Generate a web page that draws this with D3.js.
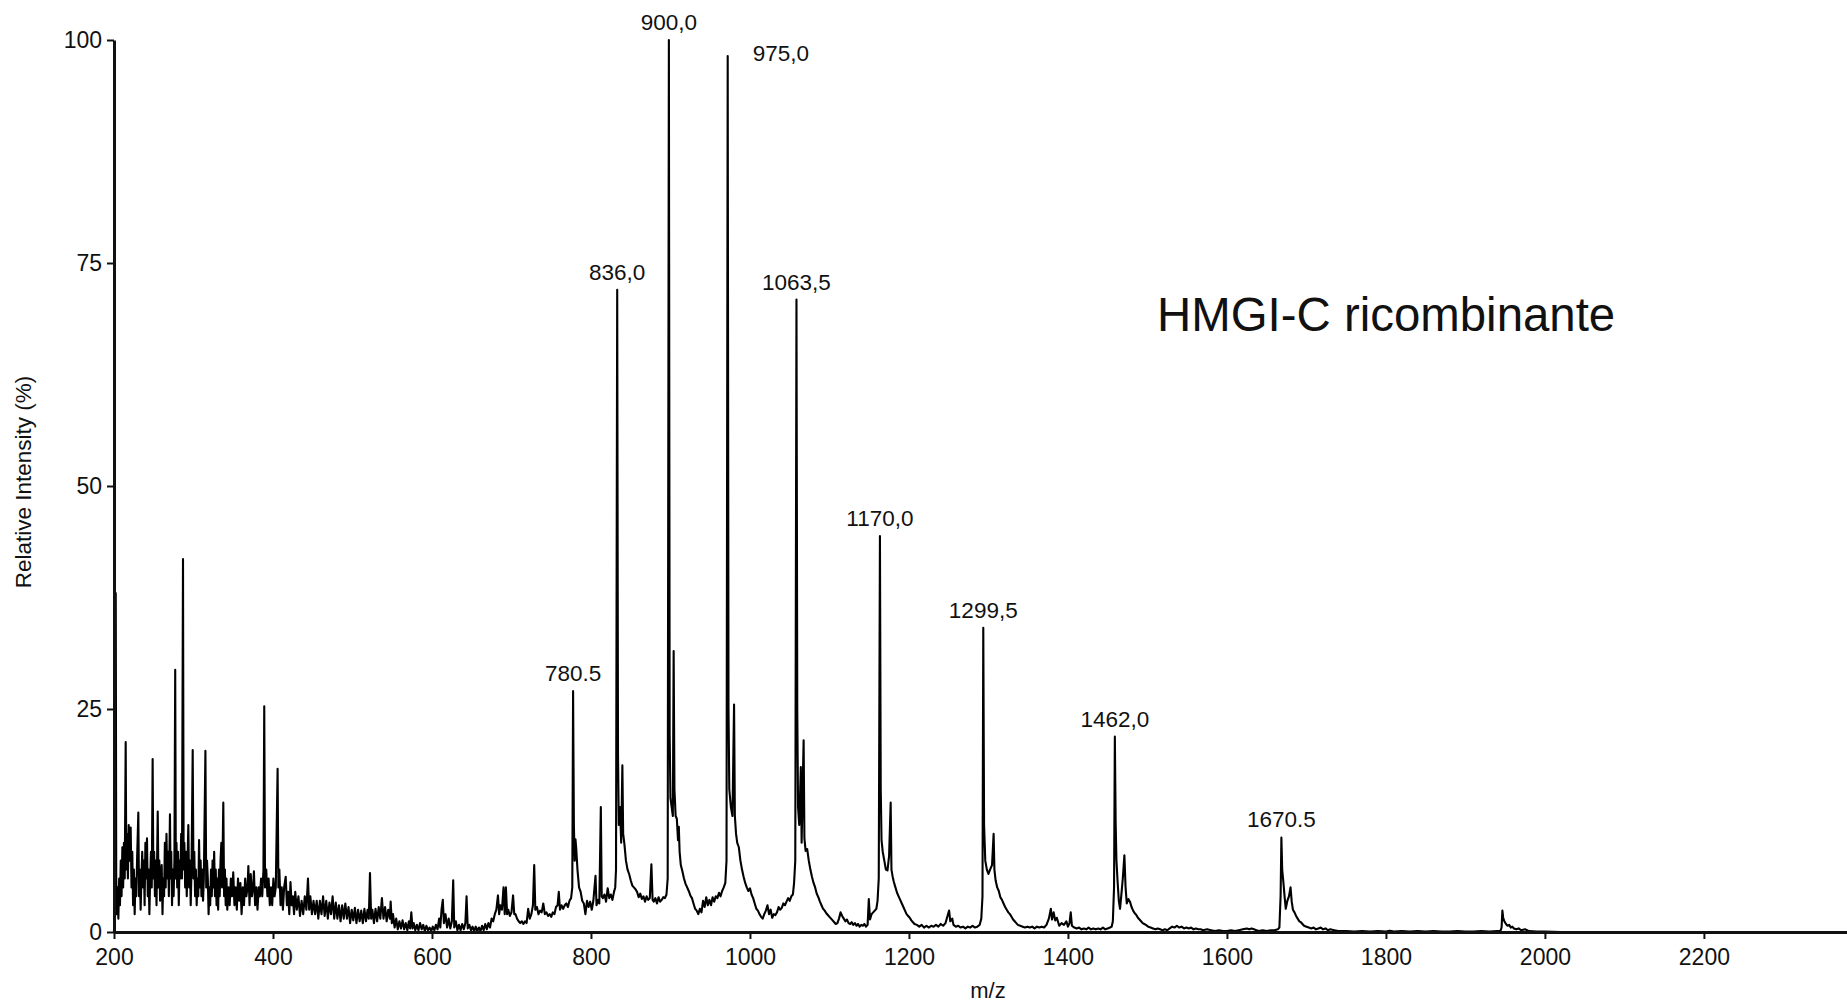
<!DOCTYPE html>
<html>
<head>
<meta charset="utf-8">
<script src="https://cdn.jsdelivr.net/npm/d3@7"></script>
<style>
  body { margin: 0; background: #fff; }
  svg { display: block; }
  text { font-family: "Liberation Sans", Arial, Helvetica, sans-serif; fill: #111; }
</style>
</head>
<body>
<div id="chart"></div>
<script>
// -----------------------------------------------------------------------------------
// Spettro di massa HMGI-C ricombinante (m/z vs intensita relativa)
// -----------------------------------------------------------------------------------

// Tick degli assi
const xTicks = [200, 400, 600, 800, 1000, 1200, 1400, 1600, 1800, 2000, 2200];
const yTicks = [0, 25, 50, 75, 100];

// Spettro, zona a bassa m/z (200-680): rumore fitto e picchi isolati  [m/z, %]
const spectrumLow = [
  [200, 0], [200.5, 3], [201, 41], [201.6, 8], [202.2, 38], [202.8, 6], [203.5, 2], [204.5, 5], [205.5, 1.5],
  [206.5, 6], [207.5, 3], [208.5, 8], [209.5, 4], [210.5, 9.5], [211.5, 5], [212.5, 10], [213.5, 6],
  [214.7, 21.3], [215.5, 7], [216.5, 11], [217.5, 6], [218.5, 12], [219.5, 8], [221, 11.7], [222, 5],
  [223, 9], [224, 3], [225, 7], [226, 2], [227, 6], [228, 4], [229, 8], [230.6, 13.4], [231.5, 4],
  [232.5, 7], [233.5, 2.5], [234.5, 6], [235.5, 9], [236.5, 5], [237.5, 8], [238.5, 3], [239.5, 10],
  [240.5, 6], [241.5, 10.5], [242.5, 4], [243.5, 7], [244.5, 2], [245.5, 6], [246.5, 9], [247.5, 5],
  [248.6, 19.4], [249.5, 6], [250.5, 9], [251.5, 4], [252.5, 8], [253.5, 3], [255, 13.5], [256, 5],
  [257, 8], [258, 3.5], [259, 6], [260, 7.5], [261, 2], [262, 6], [263, 4], [264, 10], [265, 5],
  [266, 11], [267, 6], [268, 9], [269, 4], [270.4, 13.2], [271.2, 6], [272, 9], [273, 3], [274, 7],
  [275, 4], [276, 8], [277, 29.4], [277.8, 6], [278.6, 10], [279.5, 5], [280.5, 9], [281.5, 3],
  [282.5, 8], [283.5, 6], [284.5, 11], [285.5, 6], [286.8, 41.8], [287.6, 7], [288.5, 10], [289.5, 5],
  [290.5, 9], [291.5, 4], [292.5, 8], [293.5, 12], [294.5, 5], [295.5, 8], [296.5, 3], [297.5, 7],
  [299, 20.4], [300, 6], [301, 9], [302, 4], [303, 7], [304, 3], [305, 6], [306, 4], [307, 10.3],
  [308, 5], [309, 8], [310, 4], [311, 7], [312, 3.5], [313, 6], [315, 20.3], [316, 5], [317, 8],
  [318, 6], [319, 2], [320, 5], [321, 3], [322, 7], [323, 4], [324, 8], [325, 5], [326, 9], [327, 4],
  [328, 7], [329, 3], [330, 6], [331, 2.5], [332, 7], [333, 4], [334, 8], [335, 10], [336, 5],
  [337.5, 14.5], [338.5, 4], [339.5, 7], [340.5, 3], [341.5, 6], [342.5, 2.5], [344, 5], [345.5, 3],
  [347, 6], [348.5, 4], [350, 6.7], [351.5, 3], [353, 5], [354.5, 2.5], [356, 6], [357.5, 3.5],
  [359, 5.5], [360.5, 2], [362, 5], [363.5, 3], [365, 6], [366.5, 4], [368, 5], [369, 7.4], [370.5, 3],
  [372, 6.5], [373.5, 4], [375, 5], [376, 6.8], [377.5, 3], [379, 5], [380.5, 2.5], [382, 5],
  [383.5, 4], [385, 6], [386.5, 4], [388, 7], [389, 25.3], [390, 5], [391.5, 7], [393, 4], [394.5, 6],
  [396, 3], [397.5, 5], [399, 3], [400.5, 6], [402, 4], [403.5, 5], [405.8, 18.3], [406.8, 5],
  [408, 7], [409.5, 3], [411, 5], [412.5, 2.5], [414, 5], [416, 6.2], [417.5, 3], [419, 4.5],
  [420.5, 2], [422, 5.6], [423.5, 3], [425, 4], [426.5, 2], [428, 4.5], [430, 2.5], [432, 4],
  [434, 1.8], [436, 3.5], [438, 2], [440, 4], [442, 2.5], [444, 6], [445.5, 2.5], [447, 4], [449, 2],
  [451, 3.5], [453, 2], [455, 3.5], [457, 1.5], [459, 3.5], [461, 2], [463, 4], [465, 1.8],
  [467, 3.5], [469, 1.5], [471, 3.3], [473, 2], [475, 4], [477, 1.5], [479, 3.3], [481, 1.5],
  [483, 3], [485, 1.2], [487, 3], [489, 1.5], [491, 3.2], [493, 1.5], [495, 2.8], [497, 1],
  [499, 2.5], [501, 1.3], [503, 2.7], [505, 1], [507, 2.5], [509, 1.2], [511, 2.4], [513, 1],
  [515, 2.6], [517, 1.2], [519, 2.5], [520.5, 1.5], [522, 6.6], [523.5, 1.5], [525, 2.5], [527, 1],
  [529, 2.6], [531, 1.2], [533, 2.8], [535, 1.5], [537, 3.8], [539, 1.5], [541, 2.8], [543, 1.2],
  [545, 2.5], [547, 1.5], [548, 3.4], [549.5, 1], [551, 2], [553, 0.5], [555, 1.5], [557, 0.3],
  [559, 1.2], [561, 0.4], [563, 1.3], [565, 0.3], [567, 1], [569, 0.2], [571, 1.2], [572.5, 0.4],
  [574, 2.2], [575.5, 0.4], [577, 1], [579, 0.2], [581, 0.8], [583, 0.2], [585, 1], [587, 0.3],
  [589, 0.8], [591, 0.1], [593, 0.7], [595, 0.2], [597, 0.5], [599, 0.1], [601, 0.6], [603, 0.2],
  [605, 0.8], [607, 0.3], [609, 1.5], [610.5, 0.5], [612, 2.5], [613.6, 3.6], [615, 1], [617, 2],
  [619, 0.5], [621, 1.5], [623, 0.4], [625, 1.2], [626.7, 5.8], [628, 0.5], [630, 1.2], [632, 0.2],
  [634, 0.8], [636, 0.2], [638, 0.9], [640, 0.3], [642, 1], [643.5, 4], [645, 0.4], [647, 0.8],
  [649, 0.2], [651, 0.6], [653, 0.1], [655, 0.6], [657, 0.1], [659, 0.5], [661, 0.1], [663, 0.7],
  [665, 0.2], [667, 0.9], [669, 0.3], [671, 1], [673, 0.5], [675, 1.5], [677, 1.2], [679, 2]
];

// Zona centrale (680-1200): serie di stati di carica principali
const spectrumMid = [
  [681, 2.5], [683, 4.1], [684.5, 2], [686, 3], [688, 2.5], [690, 5], [691.5, 2], [693, 5], [694.5, 2],
  [696, 2.5], [698, 1.8], [700, 2.2], [702, 4.1], [703.5, 2], [705, 2], [707, 1.5], [709, 1.2],
  [711, 1], [713, 1.2], [715, 0.9], [717, 1.2], [719, 1], [721, 2.6], [723, 1.5], [725, 2], [727, 3],
  [728.6, 7.5], [730, 2.5], [732, 2.8], [734, 2], [736, 2.4], [738, 2.2], [740, 3.2], [742, 2],
  [744, 2.2], [746, 1.8], [748, 2], [750, 1.7], [752, 2.2], [754, 2], [756, 2.8], [758, 3],
  [759.5, 4.5], [761, 2.5], [763, 3], [765, 2.6], [767, 3], [769, 3.2], [771, 2.8], [773, 3.5],
  [775, 3.8], [776.5, 5], [777.5, 27], [778.5, 12], [779.5, 8], [780.5, 10.4], [781.5, 9.3], [783, 7],
  [785, 5], [787, 4.5], [789, 3.5], [791, 3.2], [793, 2], [795, 3.5], [797, 2.8], [799, 3.4],
  [801, 2.5], [803, 3.5], [805.7, 6.3], [807, 3], [809, 3.6], [810.5, 3.2], [812.4, 14], [813.5, 4],
  [815, 3.8], [817, 4.2], [819, 3.4], [821, 4.9], [823, 3.8], [825, 4.2], [827, 3.6], [829, 4.5],
  [830.5, 5], [831.5, 7], [833, 72], [834, 20], [835, 12], [836.5, 14], [838, 10], [839.5, 18.7],
  [840.5, 11], [842, 9.9], [844, 8], [846, 7], [848, 6.5], [850, 5.8], [852, 5.2], [854, 5],
  [856, 4.8], [858, 4.5], [860, 3.9], [862, 4.3], [864, 3.7], [866, 4], [868, 3.4], [870, 4],
  [872, 3.6], [874, 3.8], [876, 7.6], [877.5, 3.6], [879, 3.4], [881, 3.8], [883, 3.2], [885, 3.9],
  [887, 3.4], [889, 3.6], [891, 3.9], [893, 3.8], [895, 4.2], [896.5, 6], [898, 100], [899, 22],
  [900, 15], [901.5, 14], [903, 13], [904, 31.5], [905, 16], [906.5, 13], [908, 12.7], [909.5, 10.3],
  [910.5, 11.8], [911.5, 9], [913, 7.5], [915, 6.8], [917, 6], [919, 5.4], [921, 5], [923, 4.6],
  [925, 4.1], [927, 3.8], [929, 3.2], [931, 2.6], [933, 2.4], [935, 2], [937, 2.6], [939, 2.2],
  [941, 3.5], [943, 2.8], [945, 3.9], [947, 3], [949, 3.6], [951, 3], [953, 3.9], [955, 3.4],
  [957, 4], [959, 3.8], [961, 4.4], [963, 4], [965, 4.6], [967, 5], [969, 5.5], [970.5, 8],
  [972, 98.2], [973, 25], [974, 16], [976, 14], [978, 13], [980, 25.5], [981, 13], [982.5, 11],
  [984, 10], [986, 9.5], [988, 8], [990, 7], [992, 6.2], [994, 5.5], [996, 5], [998, 4.6],
  [1000, 4.9], [1002, 4.2], [1004, 3.8], [1006, 3.2], [1008, 2.6], [1010, 2.4], [1012, 2],
  [1014, 1.7], [1016, 1.5], [1018, 2], [1020, 2.4], [1022, 3], [1024, 2], [1026, 2.5], [1028, 1.6],
  [1030, 2], [1032, 1.9], [1034, 2.2], [1036, 2.8], [1038, 2.5], [1040, 2.7], [1042, 3.2], [1044, 3],
  [1046, 3.4], [1048, 3.8], [1050, 3.5], [1052, 4], [1054, 4.2], [1055.5, 5.5], [1057, 8],
  [1058.5, 70.9], [1059.5, 25], [1060.5, 14], [1062, 12], [1064, 18.5], [1065, 10], [1067.5, 21.5],
  [1068.5, 10.5], [1070, 9.1], [1072, 9.3], [1074, 8], [1076, 7], [1078, 6.2], [1080, 5.5],
  [1082, 5], [1084, 4.3], [1086, 3.9], [1088, 3.4], [1090, 3], [1092, 2.6], [1094, 2.4], [1096, 2.1],
  [1098, 1.9], [1100, 1.7], [1102, 1.5], [1104, 1.3], [1106, 1.1], [1108, 0.9], [1110, 1],
  [1112, 1.5], [1114, 2.2], [1116, 1.8], [1118, 1.5], [1120, 1.2], [1122, 1.4], [1124, 1],
  [1126, 0.9], [1128, 1.1], [1130, 0.8], [1132, 1], [1134, 0.7], [1136, 0.9], [1138, 0.6],
  [1140, 0.8], [1142, 0.7], [1144, 0.9], [1146, 0.6], [1148, 0.8], [1149.5, 3.7], [1151, 1.4],
  [1153, 2], [1155, 2.2], [1157, 2.4], [1159, 2.6], [1160.5, 3.5], [1162, 6], [1163.5, 44.4],
  [1164.5, 16], [1165.5, 10.3], [1167, 9], [1169, 8], [1171, 7], [1173, 6.9], [1175, 8.5],
  [1177, 14.5], [1178, 7], [1179.5, 6.2], [1181, 5.6], [1183, 5], [1185, 4.4], [1187, 4],
  [1189, 3.6], [1191, 3.2], [1193, 2.8], [1195, 2.4], [1197, 2], [1199, 1.8]
];

// Zona ad alta m/z (1200-2380): picchi decrescenti e linea di base piatta
const spectrumHigh = [
  [1201, 1.6], [1203, 1.3], [1205, 1.1], [1207, 0.9], [1210, 0.8], [1213, 0.6], [1216, 0.8],
  [1219, 0.5], [1222, 0.7], [1225, 0.5], [1228, 0.7], [1231, 0.6], [1234, 0.8], [1237, 0.6],
  [1240, 0.9], [1243, 0.7], [1246, 1], [1248.5, 1.8], [1250.5, 2.4], [1252, 1.2], [1254.5, 1.5],
  [1256, 0.8], [1259, 0.6], [1262, 0.7], [1265, 0.5], [1268, 0.6], [1271, 0.4], [1274, 0.6],
  [1277, 0.5], [1280, 0.7], [1283, 0.5], [1286, 0.6], [1289, 0.8], [1291, 1.5], [1292.5, 4],
  [1293.5, 34.1], [1294.5, 12], [1296, 8], [1298, 7], [1300, 6.5], [1302, 7], [1304.5, 7.5],
  [1306.5, 11], [1307.5, 7], [1309, 5.8], [1311, 5], [1313, 4.6], [1315, 3.9], [1317, 3.6],
  [1319, 3.2], [1321, 2.8], [1323, 2.5], [1325, 2.2], [1327, 2], [1329, 1.7], [1331, 1.4],
  [1333, 1.2], [1335, 1], [1337, 0.8], [1340, 0.7], [1343, 0.6], [1346, 0.5], [1349, 0.6],
  [1352, 0.5], [1355, 0.6], [1358, 0.4], [1361, 0.6], [1364, 0.5], [1367, 0.6], [1370, 0.5],
  [1373, 0.8], [1376, 1.5], [1378.5, 2.6], [1380, 1.4], [1382, 2.2], [1384, 1.3], [1386, 1.6],
  [1389, 0.7], [1392, 1], [1395, 0.8], [1398, 1.2], [1400, 0.6], [1402, 1], [1403.5, 2.2],
  [1405, 0.7], [1408, 0.5], [1411, 0.4], [1414, 0.5], [1417, 0.3], [1420, 0.4], [1423, 0.3],
  [1426, 0.5], [1429, 0.3], [1432, 0.4], [1435, 0.3], [1438, 0.4], [1441, 0.3], [1444, 0.5],
  [1447, 0.3], [1450, 0.4], [1453, 0.5], [1455, 0.6], [1456.5, 1.2], [1458, 5], [1459, 21.9],
  [1460, 12.3], [1461, 8], [1462.5, 5.6], [1464, 3.5], [1465.5, 2.6], [1467, 4], [1469, 6],
  [1471, 8.6], [1472.5, 5], [1474, 3.2], [1476, 3.7], [1478, 3.4], [1480, 2.8], [1482, 2.4],
  [1484, 2.1], [1486, 1.9], [1488, 1.6], [1490, 1.4], [1492, 1.2], [1494, 1], [1496, 0.9],
  [1498, 0.8], [1501, 0.6], [1504, 0.5], [1507, 0.4], [1510, 0.3], [1513, 0.4], [1516, 0.3],
  [1519, 0.2], [1522, 0.3], [1525, 0.2], [1528, 0.4], [1531, 0.6], [1534, 0.5], [1537, 0.7],
  [1540, 0.5], [1543, 0.6], [1546, 0.4], [1549, 0.5], [1552, 0.4], [1555, 0.5], [1558, 0.3],
  [1561, 0.4], [1564, 0.3], [1567, 0.3], [1570, 0.2], [1575, 0.3], [1580, 0.2], [1585, 0.1],
  [1590, 0.2], [1595, 0.1], [1600, 0.1], [1605, 0.2], [1610, 0.1], [1615, 0.2], [1620, 0.3],
  [1625, 0.4], [1628, 0.3], [1631, 0.4], [1634, 0.3], [1637, 0.2], [1640, 0.1], [1645, 0.2],
  [1650, 0.1], [1655, 0.2], [1660, 0.2], [1664, 0.3], [1666, 0.5], [1667.5, 4], [1668.5, 10.6],
  [1669.5, 7], [1671, 5.6], [1672.5, 4], [1674, 2.6], [1676, 3.5], [1678, 4], [1680, 5],
  [1681.5, 3.4], [1683, 2.5], [1685, 2.2], [1687, 1.8], [1689, 1.5], [1691, 1.2], [1693, 1.1],
  [1695, 0.9], [1697, 0.7], [1700, 0.6], [1703, 0.5], [1706, 0.4], [1709, 0.5], [1712, 0.3],
  [1715, 0.4], [1718, 0.5], [1721, 0.3], [1724, 0.4], [1727, 0.2], [1730, 0.3], [1735, 0.2],
  [1740, 0.1], [1750, 0.1], [1760, 0.05], [1770, 0.1], [1780, 0.05], [1790, 0.1], [1800, 0.05],
  [1805, 0.15], [1810, 0.05], [1820, 0.1], [1830, 0.05], [1840, 0.1], [1850, 0.05], [1860, 0.1],
  [1870, 0.05], [1880, 0.05], [1890, 0.1], [1900, 0.05], [1910, 0.05], [1920, 0.1], [1930, 0.05],
  [1940, 0.1], [1944, 0.1], [1945.5, 0.5], [1946.5, 2.4], [1947.5, 1.6], [1949, 1.2], [1951, 0.9],
  [1953, 0.7], [1955, 0.8], [1957, 0.5], [1959, 0.6], [1961, 0.4], [1964, 0.3], [1967, 0.4],
  [1970, 0.2], [1975, 0.3], [1980, 0.1], [1990, 0.05], [2000, 0.05], [2020, 0], [2380, 0]
];

// Etichette dei picchi principali (testo e posizione m/z del picco disegnato)
const peakLabelText = ["780.5", "836,0", "900,0", "975,0", "1063,5", "1170,0", "1299,5", "1462,0", "1670.5"];
const peakLabelMz = [777.5, 833, 898, 972, 1058.5, 1163.5, 1293.5, 1459, 1668.5];

const chartTitle = "HMGI-C ricombinante";
const xLabel = "m/z";
const yLabel = "Relative Intensity (%)";

// -----------------------------------------------------------------------------------
const width = 1847, height = 1003;
const spectrum = spectrumLow.concat(spectrumMid, spectrumHigh);

const x = d3.scaleLinear().domain([200, 2380]).range([114, 1847]);
const y = d3.scaleLinear().domain([0, 100]).range([932, 40]);

const svg = d3.select('#chart').append('svg')
  .attr('width', width)
  .attr('height', height);

svg.append('rect').attr('width', width).attr('height', height).attr('fill', '#fff');

// Traccia dello spettro
const line = d3.line()
  .x(d => x(d[0]))
  .y(d => y(d[1]));

svg.append('path')
  .datum(spectrum)
  .attr('fill', 'none')
  .attr('stroke', '#000')
  .attr('stroke-width', 2.1)
  .attr('stroke-linejoin', 'round')
  .attr('d', line);

// Asse X
const xAxis = svg.append('g')
  .attr('transform', `translate(0, ${y(0)})`)
  .call(d3.axisBottom(x).tickValues(xTicks).tickFormat(d3.format('d'))
    .tickSize(7).tickPadding(10).tickSizeOuter(0));

// Asse Y
const yAxis = svg.append('g')
  .attr('transform', `translate(${x(200)}, 0)`)
  .call(d3.axisLeft(y).tickValues(yTicks).tickFormat(d3.format('d'))
    .tickSize(7).tickPadding(5).tickSizeOuter(0));

[xAxis, yAxis].forEach(a => {
  a.attr('font-size', 23);
  a.select('.domain').attr('stroke', '#111').attr('stroke-width', 3);
  a.selectAll('.tick line').attr('stroke', '#111').attr('stroke-width', 2);
});

// Titoli degli assi
svg.append('text')
  .attr('x', 988)
  .attr('y', 998)
  .attr('text-anchor', 'middle')
  .style('font-size', '22px')
  .text(xLabel);

svg.append('text')
  .attr('transform', 'translate(31, 482) rotate(-90)')
  .attr('text-anchor', 'middle')
  .style('font-size', '22.5px')
  .text(yLabel);

// Titolo del campione
svg.append('text')
  .attr('x', 1157)
  .attr('y', 331)
  .style('font-size', '47.4px')
  .text(chartTitle);

const peakTop = mz => spectrum.find(d => d[0] === mz)[1];

svg.selectAll('.peak-label')
  .data(peakLabelMz)
  .enter().append('text')
  .attr('class', 'peak-label')
  .attr('x', (d, i) => peakLabelText[i] === "975,0" ? x(d) + 25 : x(d))
  .attr('y', (d, i) => peakLabelText[i] === "975,0" ? y(peakTop(d)) + 5 : y(peakTop(d)) - 10)
  .attr('text-anchor', (d, i) => peakLabelText[i] === "975,0" ? 'start' : 'middle')
  .style('font-size', '22.5px')
  .text((d, i) => peakLabelText[i]);
</script>
</body>
</html>
